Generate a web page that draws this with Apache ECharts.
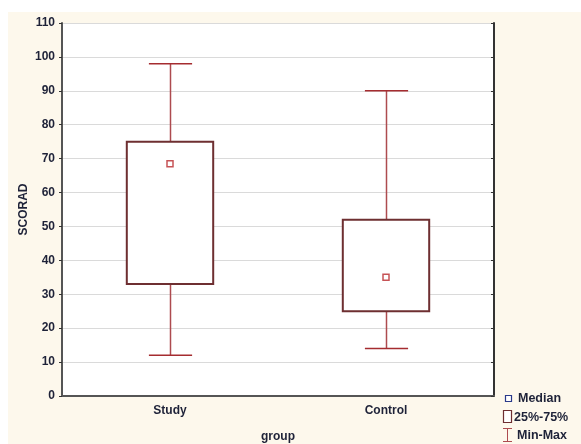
<!DOCTYPE html>
<html>
<head>
<meta charset="utf-8">
<script src="https://cdn.jsdelivr.net/npm/echarts@6/dist/echarts.min.js"></script>
<style>
  html, body { margin: 0; padding: 0; background: #ffffff; }
  #chart { width: 581px; height: 444px; }
</style>
</head>
<body>
<div id="chart"></div>
<script>
// SCORAD by group: min / quartiles / median / max
const categories = ['Study', 'Control'];
const minVals    = [12, 14];
const q1Vals     = [33, 25];
const medianVals = [68.5, 35];
const q3Vals     = [75, 52];
const maxVals    = [98, 90];

const yMin = 0, yMax = 110, yStep = 10;

const FONT = '"Liberation Sans", Arial, sans-serif';
const TEXT = '#1e2238';
const BOX_COLOR = '#6e2f31';
const WHISKER_COLOR = '#ad4b4f';
const CAP_COLOR = '#a52c30';
const MEDIAN_COLOR = '#b8282c';

const boxData = categories.map((c, i) => [i, q1Vals[i], q3Vals[i]]);
const whiskerData = categories.map((c, i) => [i, minVals[i], q1Vals[i], q3Vals[i], maxVals[i]]);

const chart = echarts.init(document.getElementById('chart'), null, { renderer: 'canvas' });

const labelStyle = { color: TEXT, fontFamily: FONT, fontSize: 12, fontWeight: 'bold' };
const keyFont = 'bold 12.5px ' + FONT;

chart.setOption({
  backgroundColor: '#ffffff',
  animation: false,
  graphic: [
    { type: 'rect', z: -10, silent: true,
      shape: { x: 8, y: 12, width: 573, height: 432 },
      style: { fill: '#fdf8ec' } },
    // key
    { type: 'rect', z: 10, shape: { x: 505.5, y: 395.5, width: 6, height: 6 },
      style: { fill: '#ffffff', stroke: '#2a3a8a', lineWidth: 1.2 } },
    { type: 'text', z: 10, left: 518, top: 392,
      style: { text: 'Median', fill: TEXT, font: keyFont } },
    { type: 'rect', z: 10, shape: { x: 503.5, y: 410.5, width: 8, height: 12 },
      style: { fill: '#ffffff', stroke: BOX_COLOR, lineWidth: 1.2 } },
    { type: 'text', z: 10, left: 514, top: 411,
      style: { text: '25%-75%', fill: TEXT, font: keyFont } },
    { type: 'line', z: 10, shape: { x1: 507.5, y1: 428, x2: 507.5, y2: 442 },
      style: { stroke: WHISKER_COLOR, lineWidth: 1 } },
    { type: 'line', z: 10, shape: { x1: 503, y1: 428.5, x2: 512, y2: 428.5 },
      style: { stroke: WHISKER_COLOR, lineWidth: 1 } },
    { type: 'line', z: 10, shape: { x1: 503, y1: 441.5, x2: 512, y2: 441.5 },
      style: { stroke: WHISKER_COLOR, lineWidth: 1 } },
    { type: 'text', z: 10, left: 517, top: 429,
      style: { text: 'Min-Max', fill: TEXT, font: keyFont } }
  ],
  grid: {
    left: 62, top: 23, right: 87, bottom: 48,
    containLabel: false, outerBoundsMode: 'none',
    show: true, backgroundColor: '#ffffff', borderWidth: 0
  },
  xAxis: [
    {
      type: 'category', data: categories, position: 'bottom',
      name: 'group', nameLocation: 'middle', nameGap: 35, nameMoveOverlap: false,
      nameTextStyle: labelStyle,
      axisLine: { lineStyle: { color: '#6a6a6a', width: 2 } },
      axisTick: { alignWithLabel: true, inside: true, length: 3, lineStyle: { color: '#333' } },
      axisLabel: Object.assign({ margin: 9 }, labelStyle),
      splitLine: { show: false }
    },
    {
      type: 'category', data: categories, position: 'top',
      axisLine: { lineStyle: { color: '#555', width: 2 } },
      axisTick: { alignWithLabel: true, inside: true, length: 3, lineStyle: { color: '#333' } },
      axisLabel: { show: false },
      splitLine: { show: false }
    }
  ],
  yAxis: [
    {
      type: 'value', min: yMin, max: yMax, interval: yStep, position: 'left',
      name: 'SCORAD', nameLocation: 'middle', nameGap: 32, nameMoveOverlap: false,
      nameTextStyle: labelStyle,
      axisLine: { show: true, lineStyle: { color: '#555', width: 2 } },
      axisTick: { show: true, length: 3, lineStyle: { color: '#333' } },
      axisLabel: Object.assign({ margin: 7 }, labelStyle),
      splitLine: { show: true, lineStyle: { color: '#dadada', width: 1 } }
    },
    {
      type: 'value', min: yMin, max: yMax, interval: yStep, position: 'right',
      axisLine: { show: true, lineStyle: { color: '#333', width: 2 } },
      axisTick: { show: true, inside: true, length: 3, lineStyle: { color: '#333' } },
      axisLabel: { show: false },
      splitLine: { show: false }
    }
  ],
  series: [
    {
      name: 'Min-Max', type: 'custom', z: 2,
      data: whiskerData,
      encode: { x: 0, y: [1, 4] },
      renderItem: function (params, api) {
        const i = api.value(0);
        const pMin = api.coord([i, api.value(1)]);
        const pQ1 = api.coord([i, api.value(2)]);
        const pQ3 = api.coord([i, api.value(3)]);
        const pMax = api.coord([i, api.value(4)]);
        const cap = api.size([1, 0])[0] * 0.2;
        const x = Math.round(pMin[0]) + 0.5;
        const stem = { stroke: WHISKER_COLOR, lineWidth: 1.5 };
        const capStyle = { stroke: CAP_COLOR, lineWidth: 1.5 };
        return {
          type: 'group',
          children: [
            { type: 'line', shape: { x1: x, y1: pMax[1], x2: x, y2: pQ3[1] }, style: stem },
            { type: 'line', shape: { x1: x, y1: pQ1[1], x2: x, y2: pMin[1] }, style: stem },
            { type: 'line', shape: { x1: x - cap / 2, y1: pMax[1], x2: x + cap / 2, y2: pMax[1] }, style: capStyle },
            { type: 'line', shape: { x1: x - cap / 2, y1: pMin[1], x2: x + cap / 2, y2: pMin[1] }, style: capStyle }
          ]
        };
      }
    },
    {
      name: '25%-75%', type: 'custom', z: 3,
      data: boxData,
      encode: { x: 0, y: [1, 2] },
      renderItem: function (params, api) {
        const i = api.value(0);
        const pLo = api.coord([i, api.value(1)]);
        const pHi = api.coord([i, api.value(2)]);
        const w = api.size([1, 0])[0] * 0.4;
        return {
          type: 'rect',
          shape: { x: pLo[0] - w / 2, y: pHi[1], width: w, height: pLo[1] - pHi[1] },
          style: { fill: '#ffffff', stroke: BOX_COLOR, lineWidth: 2 }
        };
      }
    },
    {
      name: 'Median', type: 'scatter', z: 4,
      data: medianVals,
      symbol: 'rect', symbolSize: 6,
      itemStyle: { color: '#ffffff', borderColor: MEDIAN_COLOR, borderWidth: 1.5 }
    }
  ]
});
</script>
</body>
</html>
